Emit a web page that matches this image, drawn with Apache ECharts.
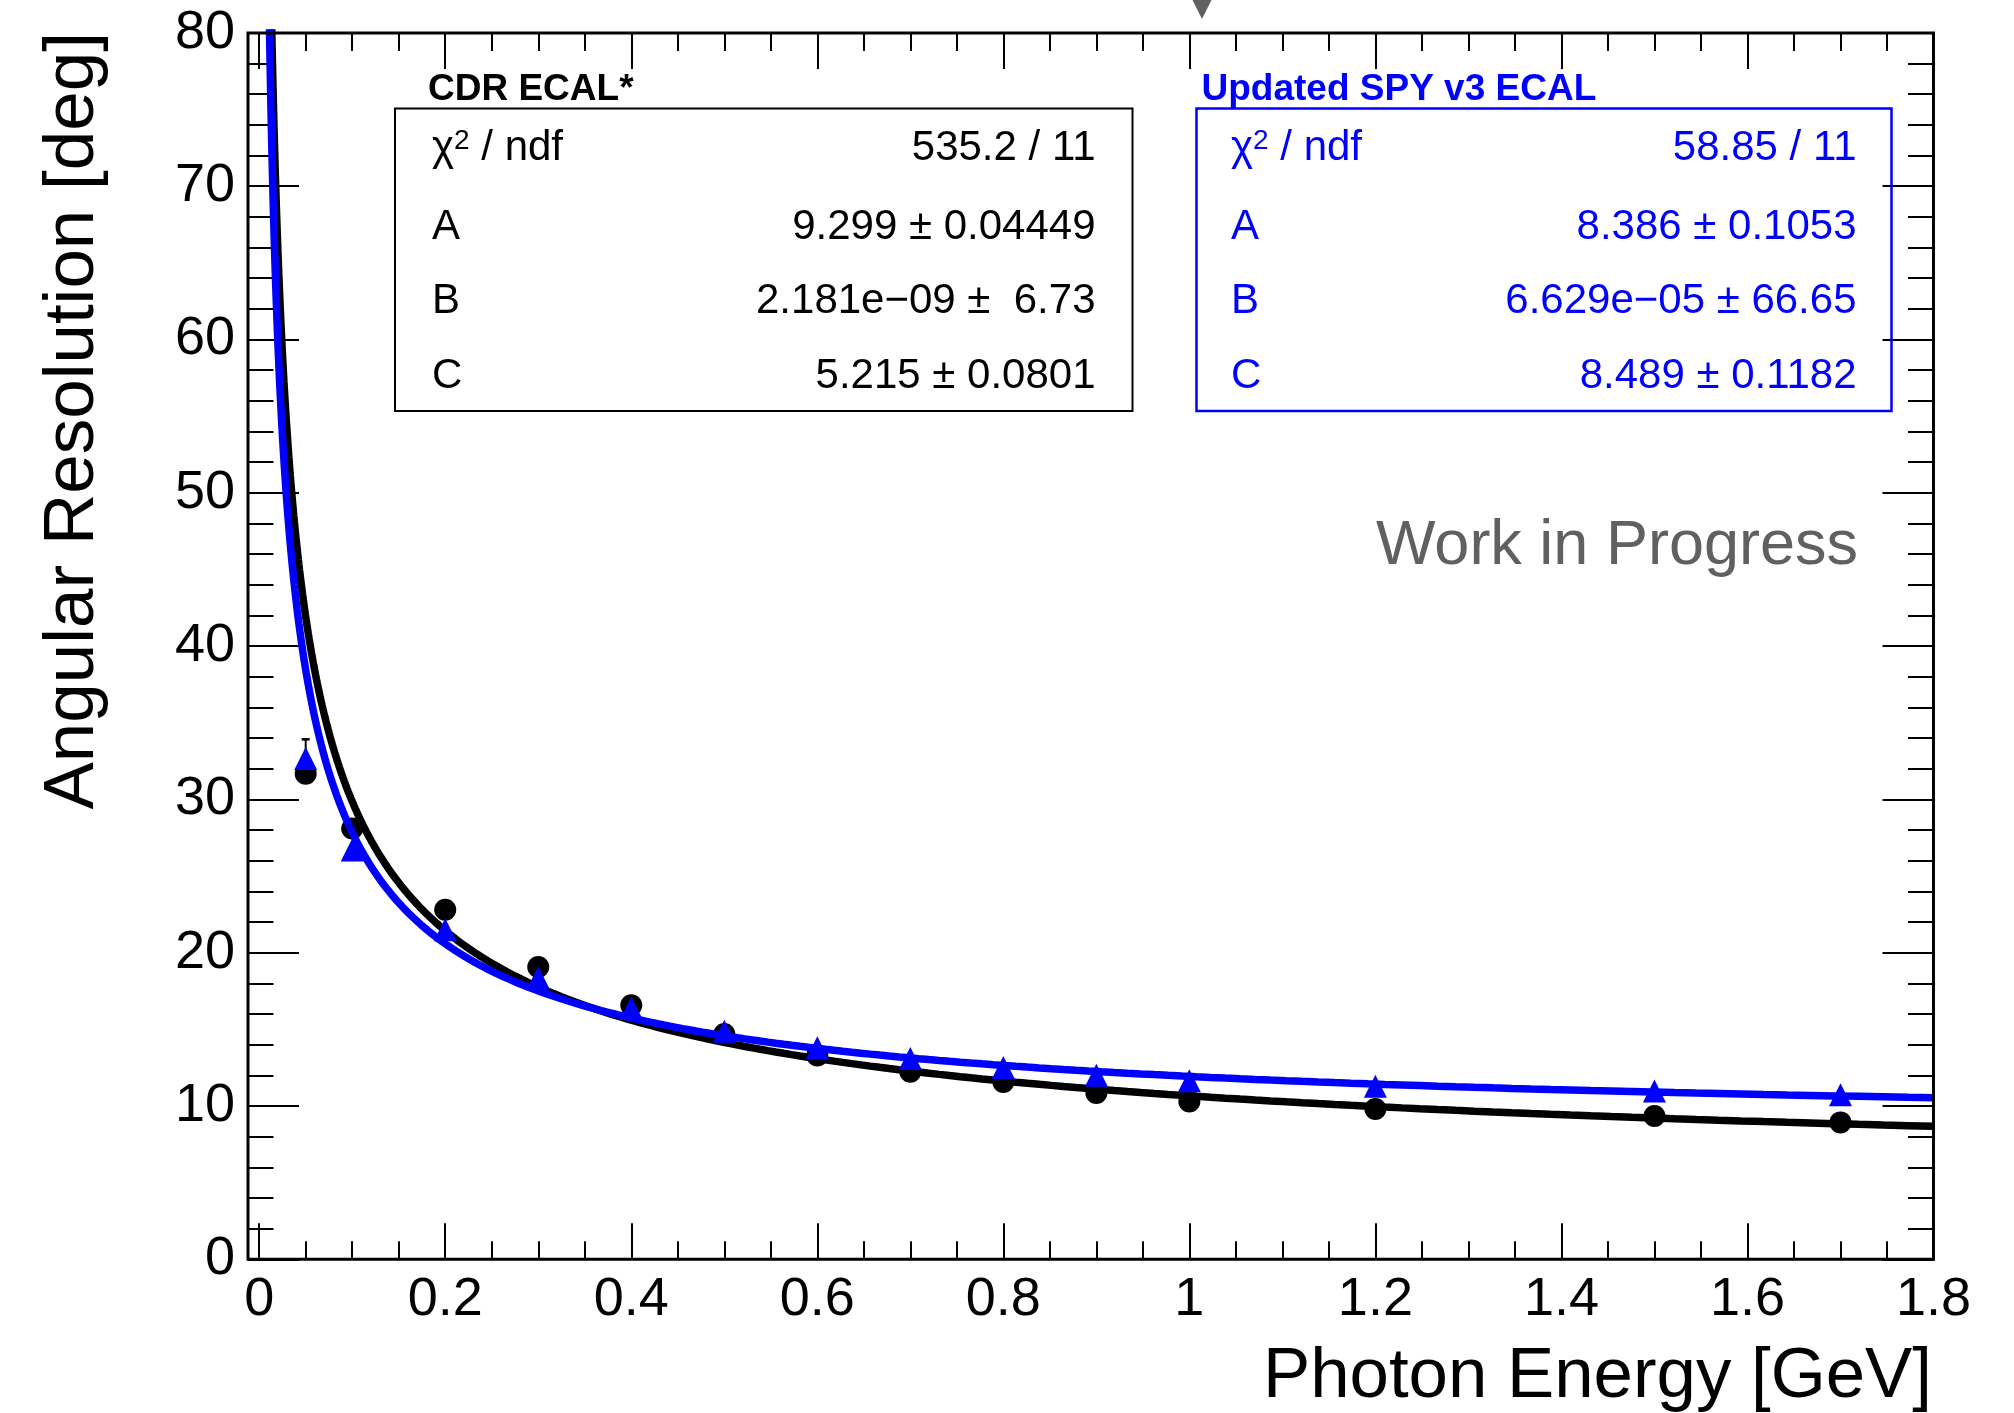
<!DOCTYPE html>
<html>
<head>
<meta charset="utf-8">
<script src="https://cdn.jsdelivr.net/npm/echarts@6/dist/echarts.min.js"></script>
<style>
  html, body { margin: 0; padding: 0; background: #ffffff; }
  #chart { width: 2014px; height: 1413px; }
</style>
</head>
<body>
<div id="chart"></div>
<script>
// Photon energy points [GeV]
const energies = [0.05, 0.1, 0.2, 0.3, 0.4, 0.5, 0.6, 0.7, 0.8, 0.9, 1.0, 1.2, 1.5, 1.7];

// Angular resolution [deg], CDR ECAL*
const cdrResolution = [31.68, 28.1, 22.8, 19.07, 16.57, 14.7, 13.3, 12.23, 11.57, 10.85, 10.3, 9.8, 9.35, 8.93];

// Angular resolution [deg], Updated SPY v3 ECAL
const spyResolution = [32.66, 26.7, 21.5, 18.37, 16.4, 14.87, 13.8, 13.1, 12.51, 12.01, 11.64, 11.29, 10.98, 10.74];

// Error bars that reach outside the markers: [energy, low, high]
const spyErrorBars = [[0.05, 31.4, 33.92]];

// Fit parameters of sigma(E) = sqrt(A^2/E + B^2/E^2 + C^2)
const cdrFit = { A: 9.299, B: 2.181e-9, C: 5.215 };
const spyFit = { A: 8.386, B: 6.629e-5, C: 8.489 };

// Fit result boxes
const cdrTitle = 'CDR ECAL*';
const spyTitle = 'Updated SPY v3 ECAL';
const cdrStats = [['χ2 / ndf', '535.2 / 11'], ['A', '9.299 ± 0.04449'], ['B', '2.181e\u221209 ±  6.73'], ['C', '5.215 ± 0.0801']];
const spyStats = [['χ2 / ndf', '58.85 / 11'], ['A', '8.386 ± 0.1053'], ['B', '6.629e\u221205 ± 66.65'], ['C', '8.489 ± 0.1182']];

// Axis ranges
const xRange = [0, 1.8], xStep = 0.2;
const yRange = [0, 80], yStep = 10;
const xTitle = 'Photon Energy [GeV]';
const yTitle = 'Angular Resolution [deg]';
const stamp = 'Work in Progress';

const FONT = "'Liberation Sans', Arial, Helvetica, sans-serif";
const BLUE = '#0000ff';

// Evaluate a fit function on a log-spaced energy grid
function fitCurve(p) {
  const pts = [];
  const n = 400, e0 = 0.004, e1 = xRange[1];
  for (let i = 0; i <= n; i++) {
    const e = e0 * Math.pow(e1 / e0, i / n);
    pts.push([e, Math.sqrt(p.A * p.A / e + p.B * p.B / (e * e) + p.C * p.C)]);
  }
  return pts;
}

const zip = (xs, ys) => xs.map((x, i) => [x, ys[i]]);

// Plot frame in pixels
const frame = { left: 248, top: 32.9, right: 1933.5, bottom: 1259.3 };
const plotLeft = 259.2; // position of E = 0

function statRows(rows, color, labelX, valueX, ys) {
  const els = [];
  rows.forEach((r, i) => {
    if (i === 0) {
      els.push({
        type: 'text', x: labelX, y: ys[i], z: 110,
        style: {
          text: '{g|χ}{s|2}{g| / ndf}',
          rich: {
            g: { fontSize: 42, fontFamily: FONT, fill: color },
            s: { fontSize: 28, fontFamily: FONT, fill: color, verticalAlign: 'top', padding: [0, 0, 6, 0] }
          },
          align: 'left', verticalAlign: 'middle'
        }
      });
    } else {
      els.push({
        type: 'text', x: labelX, y: ys[i], z: 110,
        style: { text: r[0], fontSize: 42, fontFamily: FONT, fill: color, align: 'left', verticalAlign: 'middle' }
      });
    }
    els.push({
      type: 'text', x: valueX, y: ys[i], z: 110,
      style: { text: r[1], fontSize: 42, fontFamily: FONT, fill: color, align: 'right', verticalAlign: 'middle' }
    });
  });
  return els;
}

const rowYs = [148.5, 227, 301.5, 376];

const axisCommon = {
  type: 'value',
  splitLine: { show: false },
  axisLine: { show: false, onZero: false }
};
const tickStyle = { color: '#000', width: 2 };

const option = {
  backgroundColor: '#ffffff',
  animation: false,
  grid: {
    left: plotLeft,
    right: 2014 - frame.right,
    top: frame.top,
    bottom: 1413 - frame.bottom,
    containLabel: false
  },
  xAxis: [
    Object.assign({}, axisCommon, {
      position: 'bottom', min: xRange[0], max: xRange[1], interval: xStep,
      axisTick: { inside: true, length: 36, lineStyle: tickStyle },
      minorTick: { show: true, splitNumber: 4, length: 18, lineStyle: tickStyle },
      axisLabel: { fontSize: 54, fontFamily: FONT, color: '#000', margin: 14 }
    }),
    Object.assign({}, axisCommon, {
      position: 'top', min: xRange[0], max: xRange[1], interval: xStep,
      axisTick: { inside: true, length: 36, lineStyle: tickStyle },
      minorTick: { show: true, splitNumber: 4, length: 18, lineStyle: tickStyle },
      axisLabel: { show: false }
    })
  ],
  yAxis: [
    Object.assign({}, axisCommon, {
      position: 'left', offset: plotLeft - frame.left, min: yRange[0], max: yRange[1], interval: yStep,
      axisTick: { inside: true, length: 51, lineStyle: tickStyle },
      minorTick: { show: true, splitNumber: 5, length: 25.5, lineStyle: tickStyle },
      axisLabel: { fontSize: 54, fontFamily: FONT, color: '#000', margin: 13 }
    }),
    Object.assign({}, axisCommon, {
      position: 'right', min: yRange[0], max: yRange[1], interval: yStep,
      axisTick: { inside: true, length: 51, lineStyle: tickStyle },
      minorTick: { show: true, splitNumber: 5, length: 25.5, lineStyle: tickStyle },
      axisLabel: { show: false }
    })
  ],
  series: [
    {
      name: 'CDR ECAL* points', type: 'scatter', data: zip(energies, cdrResolution),
      symbol: 'circle', symbolSize: 22, itemStyle: { color: '#000000', opacity: 1 }, z: 2
    },
    {
      name: 'CDR ECAL* fit', type: 'line', data: fitCurve(cdrFit), showSymbol: false, symbol: 'none',
      lineStyle: { color: '#000000', width: 7.5 }, clip: true, z: 3
    },
    {
      name: 'SPY errors', type: 'custom', data: spyErrorBars, z: 4,
      renderItem: function (params, api) {
        const x = api.value(0), lo = api.value(1), hi = api.value(2);
        const pLo = api.coord([x, lo]), pHi = api.coord([x, hi]);
        const cap = 4;
        return {
          type: 'group',
          children: [
            { type: 'line', shape: { x1: pLo[0], y1: pLo[1], x2: pHi[0], y2: pHi[1] }, style: { stroke: '#000', lineWidth: 2 } },
            { type: 'line', shape: { x1: pHi[0] - cap, y1: pHi[1], x2: pHi[0] + cap, y2: pHi[1] }, style: { stroke: '#000', lineWidth: 2.5 } },
            { type: 'line', shape: { x1: pLo[0] - cap, y1: pLo[1], x2: pLo[0] + cap, y2: pLo[1] }, style: { stroke: '#000', lineWidth: 2.5 } }
          ]
        };
      }
    },
    {
      name: 'SPY v3 points', type: 'scatter', data: zip(energies, spyResolution),
      symbol: 'triangle', symbolSize: 23, itemStyle: { color: BLUE, opacity: 1 }, z: 5
    },
    {
      name: 'SPY v3 fit', type: 'line', data: fitCurve(spyFit), showSymbol: false, symbol: 'none',
      lineStyle: { color: BLUE, width: 7.5 }, clip: true, z: 6
    }
  ],
  graphic: {
    elements: [
      // frame
      {
        type: 'rect', z: 100,
        shape: { x: frame.left, y: frame.top, width: frame.right - frame.left, height: frame.bottom - frame.top },
        style: { fill: 'none', stroke: '#000', lineWidth: 3 }
      },
      // marker above the plot
      {
        type: 'polygon', z: 100,
        shape: { points: [[1191, -3], [1213, -3], [1202, 19]] },
        style: { fill: '#606060' }
      },
      // CDR fit box
      {
        type: 'rect', z: 100,
        shape: { x: 395, y: 108.5, width: 737.5, height: 302.5 },
        style: { fill: 'none', stroke: '#000', lineWidth: 2 }
      },
      {
        type: 'text', x: 428, y: 90, z: 110,
        style: { text: cdrTitle, fontSize: 37, fontWeight: 'bold', fontFamily: FONT, fill: '#000', align: 'left', verticalAlign: 'middle' }
      },
      ...statRows(cdrStats, '#000', 432, 1095.5, rowYs),
      // SPY v3 fit box
      {
        type: 'rect', z: 100,
        shape: { x: 1196.5, y: 108.5, width: 695, height: 302.5 },
        style: { fill: 'none', stroke: BLUE, lineWidth: 2.5 }
      },
      {
        type: 'text', x: 1201.5, y: 90, z: 110,
        style: { text: spyTitle, fontSize: 37, fontWeight: 'bold', fontFamily: FONT, fill: BLUE, align: 'left', verticalAlign: 'middle' }
      },
      ...statRows(spyStats, BLUE, 1231, 1856.5, rowYs),
      // stamp
      {
        type: 'text', x: 1858, y: 547, z: 110,
        style: { text: stamp, fontSize: 63, fontFamily: FONT, fill: '#606060', align: 'right', verticalAlign: 'middle' }
      },
      // axis titles
      {
        type: 'text', x: 1932, y: 1377.5, z: 110,
        style: { text: xTitle, fontSize: 70.8, fontFamily: FONT, fill: '#000', align: 'right', verticalAlign: 'middle' }
      },
      {
        type: 'text', x: 73, y: 32, z: 110, rotation: Math.PI / 2,
        style: { text: yTitle, fontSize: 71, fontFamily: FONT, fill: '#000', align: 'right', verticalAlign: 'middle' }
      }
    ]
  }
};

const chart = echarts.init(document.getElementById('chart'), null, { renderer: 'canvas', width: 2014, height: 1413 });
chart.setOption(option);
</script>
</body>
</html>
